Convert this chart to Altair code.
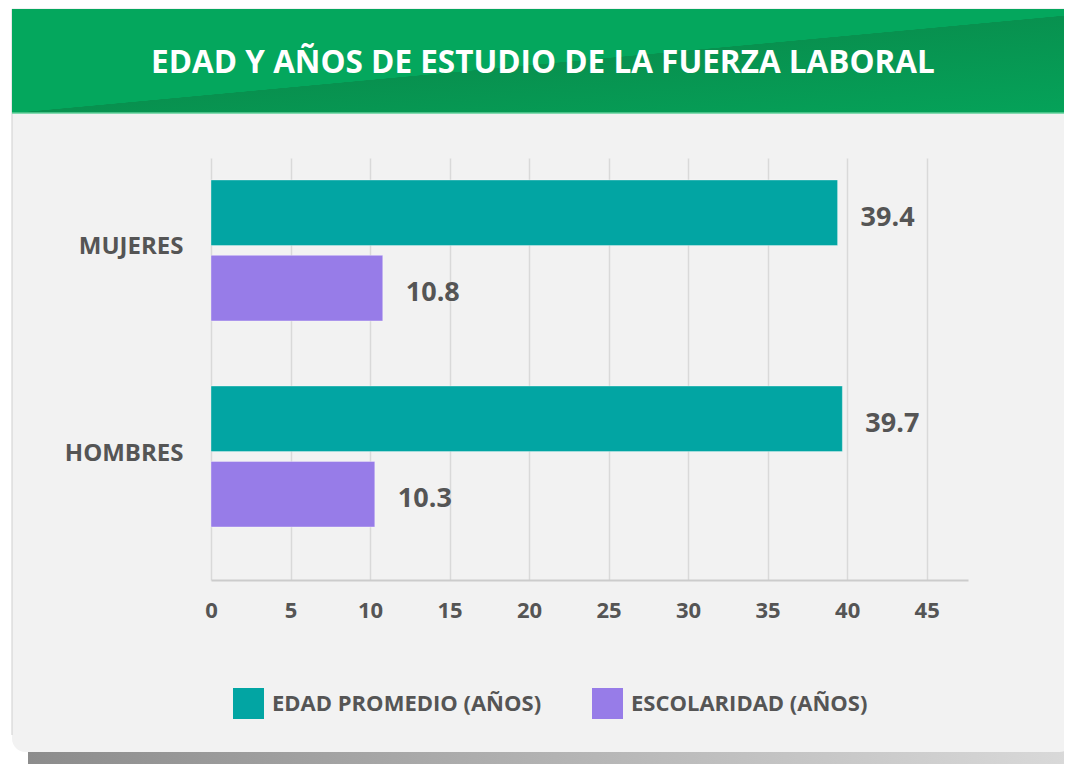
import altair as alt
import pandas as pd

# ---- data ----
grupos = ["MUJERES", "MUJERES", "HOMBRES", "HOMBRES"]
series = ["EDAD PROMEDIO (AÑOS)", "ESCOLARIDAD (AÑOS)", "EDAD PROMEDIO (AÑOS)", "ESCOLARIDAD (AÑOS)"]
valores = [39.4, 10.8, 39.7, 10.3]
categorias = ["MUJERES", "HOMBRES"]
nombres_series = ["EDAD PROMEDIO (AÑOS)", "ESCOLARIDAD (AÑOS)"]
colores = ["#02a5a3", "#977ce8"]
ticks_x = [0, 5, 10, 15, 20, 25, 30, 35, 40, 45]
titulo = "EDAD Y AÑOS DE ESTUDIO DE LA FUERZA LABORAL"

df = pd.DataFrame({"grupo": grupos, "serie": series, "valor": valores})

FONT = "Open Sans"
GRAY = "#555555"

# page origin of plot area: (211, 158)
OX, OY = 211, 158

def px(x):
    return x - OX

def py(y):
    return y - OY

one = alt.Data(values=[{"k": 1}])

white_left = alt.Chart(one).mark_rect(color="white").encode(
    x=alt.value(px(0)), x2=alt.value(px(12)), y=alt.value(py(0)), y2=alt.value(py(780)))
white_bottom = alt.Chart(one).mark_rect(color="white").encode(
    x=alt.value(px(0)), x2=alt.value(px(1100)), y=alt.value(py(738)), y2=alt.value(py(790)))

shadow_grad = alt.LinearGradient(
    gradient="linear",
    stops=[alt.GradientStop(color="#8c8c8c", offset=0),
           alt.GradientStop(color="#b4b4b4", offset=0.5),
           alt.GradientStop(color="#dcdcdc", offset=1)],
    x1=0, y1=0.5, x2=1, y2=0.5)
shadow = alt.Chart(one).mark_rect(color=shadow_grad, cornerRadius=20).encode(
    x=alt.value(px(28)), x2=alt.value(px(1110)), y=alt.value(py(732)), y2=alt.value(py(800)))

card_bottom = alt.Chart(one).mark_rect(
    color="#f2f2f2", cornerRadiusBottomLeft=24, cornerRadiusBottomRight=24).encode(
    x=alt.value(px(12)), x2=alt.value(px(1073)), y=alt.value(py(725)), y2=alt.value(py(752)))

card_border = alt.Chart(one).mark_rule(color="#cfcfcf", strokeWidth=1).encode(
    x=alt.value(px(12)), y=alt.value(py(9)), y2=alt.value(py(735)))

header_grad = alt.LinearGradient(
    gradient="linear",
    stops=[alt.GradientStop(color="#04a75d", offset=0),
           alt.GradientStop(color="#04a75d", offset=0.52),
           alt.GradientStop(color="#08914f", offset=0.522),
           alt.GradientStop(color="#05a259", offset=1)],
    x1=0, y1=0, x2=0.96, y2=1.0)
header = alt.Chart(one).mark_rect(color=header_grad).encode(
    x=alt.value(px(12)), x2=alt.value(px(1090)), y=alt.value(py(9)), y2=alt.value(py(113)))
header_line = alt.Chart(one).mark_rule(color="#5fd09a", strokeWidth=1.5).encode(
    x=alt.value(px(12)), x2=alt.value(px(1090)), y=alt.value(py(113)))

title = alt.Chart(one).mark_text(
    text=titulo, font=FONT, fontSize=31.5, fontWeight="bold", color="white",
    align="center", baseline="middle").encode(
    x=alt.value(px(543)), y=alt.value(py(64)))

y_enc = alt.Y("grupo:N", sort=categorias,
              scale=alt.Scale(domain=categorias, paddingInner=0.316, paddingOuter=0.182, align=0.293),
              axis=alt.Axis(title=None, labelFont=FONT, labelFontSize=24, labelFontWeight="bold",
                            labelColor=GRAY, labelPadding=28, ticks=False, domain=False, grid=False,
                            labelOffset=-3))
yoff_enc = alt.YOffset("serie:N", sort=nombres_series,
                       scale=alt.Scale(domain=nombres_series, paddingInner=0.13, paddingOuter=0))
x_enc = alt.X("valor:Q",
              scale=alt.Scale(domain=[0, 47.6], nice=False, zero=True),
              axis=alt.Axis(title=None, values=ticks_x, labelFont=FONT, labelFontSize=22,
                            labelFontWeight="bold", labelColor=GRAY, labelPadding=20,
                            labelFlush=False, ticks=False, grid=True, gridColor="#d9d9d9",
                            gridWidth=1.5, domainColor="#cccccc", domainWidth=2))

bars = alt.Chart(df).mark_bar(stroke="#ffffff", strokeOpacity=0.35, strokeWidth=1).encode(
    x=x_enc, y=y_enc, yOffset=yoff_enc,
    color=alt.Color("serie:N", sort=nombres_series,
                    scale=alt.Scale(domain=nombres_series, range=colores),
                    legend=alt.Legend(title=None, orient="none", legendX=22, legendY=530,
                                      direction="horizontal", symbolType="square",
                                      symbolSize=961, symbolStrokeWidth=0, symbolOpacity=1,
                                      labelFont=FONT, labelFontSize=22, labelFontWeight="bold",
                                      labelColor=GRAY, labelOffset=8, columnPadding=50,
                                      labelLimit=0)))

labels = alt.Chart(df).mark_text(
    align="left", baseline="middle", dx=23, dy=5, font=FONT, fontSize=27,
    fontWeight="bold", color=GRAY).encode(
    x="valor:Q", y=alt.Y("grupo:N", sort=categorias), yOffset=alt.YOffset("serie:N", sort=nombres_series),
    text=alt.Text("valor:Q", format=".1f"))

chart = alt.layer(
    white_left, white_bottom, shadow, card_bottom, card_border, header, header_line, title,
    bars, labels
).properties(
    width=757, height=422,
    padding={"left": 203, "top": 150, "right": 96, "bottom": 184},
    autosize=alt.AutoSizeParams(type="none"),
    background="#f2f2f2",
).configure_view(strokeWidth=0)

chart.save("out.html", embed_options={"renderer": "svg", "actions": False})
